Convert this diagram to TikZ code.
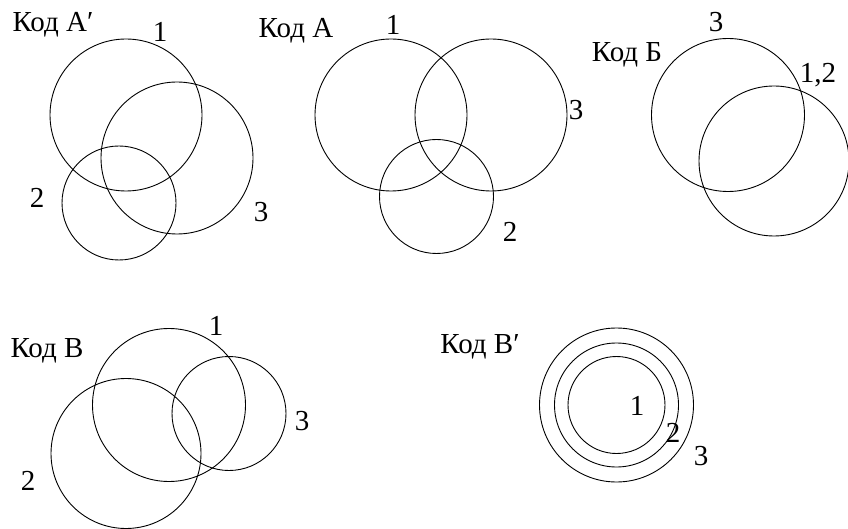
\documentclass[tikz,border=0pt]{standalone}
\usepackage{fontspec}
\setmainfont{Liberation Serif}
\begin{document}
\begin{tikzpicture}[x=1pt, y=-1pt, ring/.style={circle, draw=black, line width=0.9pt, inner sep=0pt, minimum size=#1},
  lbl/.style={font=\fontsize{29}{32}\selectfont, inner sep=0pt, anchor=base}]
\useasboundingbox (0,0) rectangle (848,529);
% Код А'
\node[lbl] (tAp) at (53,32) {Код А′};
\node[ring=152pt] (ap1) at (126,115) {};
\node[ring=152pt] (ap3) at (177,158) {};
\node[ring=114pt] (ap2) at (119,203) {};
\node[lbl] (nap1) at (160,42) {1};
\node[lbl] (nap2) at (37,208) {2};
\node[lbl] (nap3) at (261,222) {3};
% Код А
\node[lbl] (tA) at (296,38) {Код А};
\node[ring=152pt] (a1) at (391,115) {};
\node[ring=152pt] (a3) at (491,115) {};
\node[ring=114pt] (a2) at (436.5,196.5) {};
\node[lbl] (na1) at (393,35) {1};
\node[lbl] (na3) at (576,120) {3};
\node[lbl] (na2) at (510,242) {2};
% Код Б
\node[lbl] (tB) at (627,62) {Код Б};
\node[ring=153pt] (b3) at (728,115) {};
\node[ring=150pt] (b12) at (774,161) {};
\node[lbl] (nb3) at (716,32) {3};
\node[lbl] (nb12) at (818,83) {1,2};
% Код В
\node[lbl] (tV) at (47,357) {Код В};
\node[ring=153pt] (v1) at (169,405) {};
\node[ring=114pt] (v3) at (229,413.5) {};
\node[ring=150pt] (v2) at (126,453.5) {};
\node[lbl] (nv1) at (216,335) {1};
\node[lbl] (nv3) at (302,430) {3};
\node[lbl] (nv2) at (28,490) {2};
% Код В'
\node[lbl] (tVp) at (480,353) {Код В′};
\node[ring=154pt] (vp3) at (616.5,405) {};
\node[ring=124pt] (vp2) at (616.5,405) {};
\node[ring=97pt] (vp1) at (616.5,405) {};
\node[lbl] (nvp1) at (637,415) {1};
\node[lbl] (nvp2) at (673,442) {2};
\node[lbl] (nvp3) at (701,465) {3};
\end{tikzpicture}
\end{document}
